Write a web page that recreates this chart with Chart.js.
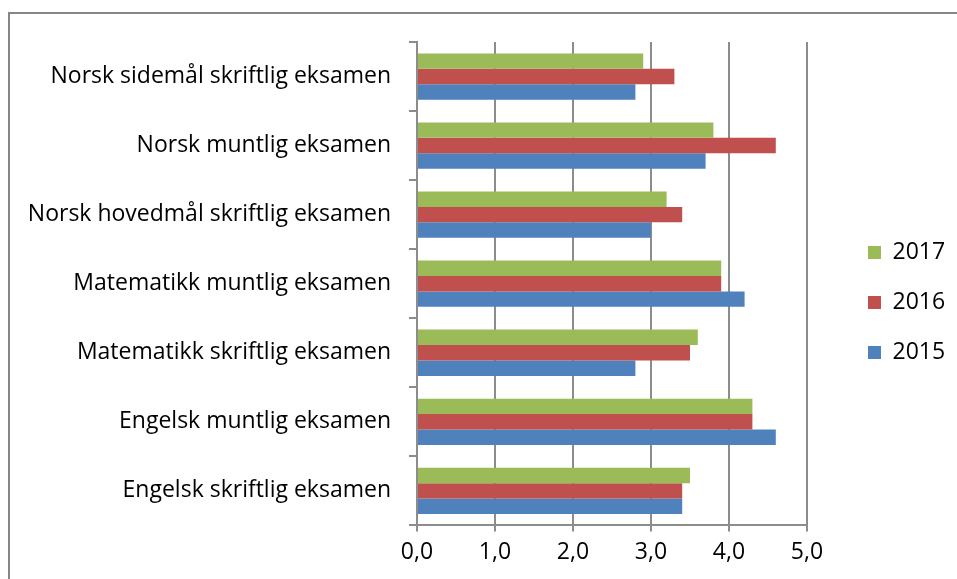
<!DOCTYPE html>
<html>
<head>
<meta charset="utf-8">
<script src="https://cdn.jsdelivr.net/npm/chart.js@4/dist/chart.umd.min.js"></script>
<style>
    html, body { margin: 0; padding: 0; background: #fff; overflow: hidden; }
    #wrap { position: relative; width: 957px; height: 579px; }
    #frame {
        position: absolute; left: 8px; top: 12px; width: 1000px; height: 700px;
        border-top: 2px solid #868686; border-left: 2px solid #868686;
        pointer-events: none;
    }
    canvas { position: absolute; left: 0; top: 0; }
</style>
</head>
<body>
<div id="wrap">
    <canvas id="chart" width="957" height="579"></canvas>
    <div id="frame"></div>
</div>
<script>
// kategorier, ovenfra og ned
const categories = [
    'Norsk sidemål skriftlig eksamen',
    'Norsk muntlig eksamen',
    'Norsk hovedmål skriftlig eksamen',
    'Matematikk muntlig eksamen',
    'Matematikk skriftlig eksamen',
    'Engelsk muntlig eksamen',
    'Engelsk skriftlig eksamen'
]
const data2017 = [2.9, 3.8, 3.2, 3.9, 3.6, 4.3, 3.5]
const data2016 = [3.3, 4.6, 3.4, 3.9, 3.5, 4.3, 3.4]
const data2015 = [2.8, 3.7, 3.0, 4.2, 2.8, 4.6, 3.4]
const xTicks = [0, 1, 2, 3, 4, 5]

const fontName = '"Open Sans", "Liberation Sans", sans-serif'
const gray = '#8c8c8c'

// legenden: fast bredde og litt lenger til hoyre
const legendPlace = {
    id: 'legendPlace',
    afterInit(chart) {
        const lg = chart.legend
        const fit = lg.fit.bind(lg)
        lg.fit = function () {
            fit()
            this.width = 150
        }
    },
    afterLayout(chart) {
        chart.legend.left += 34
        chart.legend.top -= 5
        chart.legend.bottom -= 5
    }
}

const ctx = document.getElementById('chart')
new Chart(ctx, {
    type: 'bar',
    data: {
        labels: categories,
        datasets: [
            { label: '2017', data: data2017, backgroundColor: '#9BBB59' },
            { label: '2016', data: data2016, backgroundColor: '#C0504D' },
            { label: '2015', data: data2015, backgroundColor: '#4F81BD' }
        ]
    },
    plugins: [legendPlace],
    options: {
        indexAxis: 'y',
        responsive: false,
        animation: false,
        devicePixelRatio: 1,
        datasets: {
            bar: { categoryPercentage: 0.67, barPercentage: 1.0 }
        },
        layout: {
            padding: { top: 42, right: 0, bottom: 6, left: 0 }
        },
        plugins: {
            tooltip: { enabled: false },
            legend: {
                position: 'right',
                labels: {
                    boxWidth: 13,
                    boxHeight: 13,
                    padding: 27,
                    color: '#000',
                    font: { family: fontName, size: 23 }
                }
            }
        },
        scales: {
            x: {
                min: 0,
                max: 5,
                afterBuildTicks: (scale) => { scale.ticks = xTicks.map(v => ({ value: v })) },
                grid: { color: gray, lineWidth: 2, tickLength: 6 },
                border: { color: gray, width: 2 },
                ticks: {
                    color: '#000',
                    padding: 7,
                    maxRotation: 0,
                    font: { family: fontName, size: 23 },
                    callback: (v) => Number(v).toFixed(1).replace('.', ',')
                }
            },
            y: {
                afterFit: (scale) => { scale.width = 417 },
                grid: { drawOnChartArea: false, color: gray, lineWidth: 2, tickLength: 8, offset: true },
                border: { color: gray, width: 2 },
                ticks: {
                    color: '#000',
                    padding: 18,
                    font: { family: fontName, size: 23 }
                }
            }
        }
    }
})
</script>
</body>
</html>
